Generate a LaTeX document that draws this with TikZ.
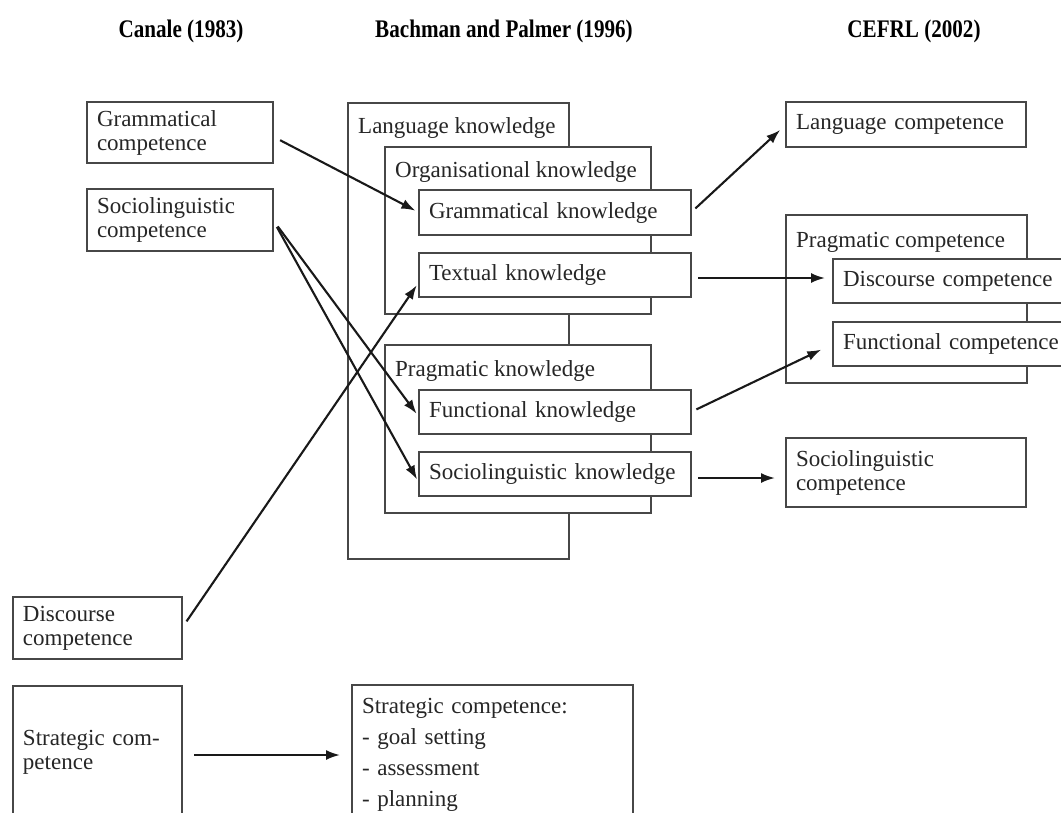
\documentclass[tikz,border=0pt]{standalone}
\usepackage{fontspec}
\setmainfont{Liberation Serif}
\usetikzlibrary{arrows.meta,calc}
\tikzset{
  box/.style={draw=black!72, fill=white, line width=1.8pt, anchor=north west,
    inner xsep=10pt, inner ysep=0pt, outer sep=0pt, align=left,
    text=black!85, font=\fontsize{23}{24}\selectfont},
  lbl/.style={anchor=base west, inner sep=0pt, text=black!85, font=\fontsize{23}{24}\selectfont},
  ttl/.style={inner sep=0pt, font=\fontsize{22}{26}\selectfont\bfseries},
  arr/.style={line width=2.1pt, black!90, -{Latex[length=14pt,width=10pt]}},
}
\newcommand{\ttltext}[1]{\scalebox{0.96}[1.15]{#1}}
\begin{document}
\begin{tikzpicture}[x=1pt,y=-1pt]
\useasboundingbox (0,0) rectangle (1061,812);
\clip (0,0) rectangle (1061,812);
\fill[white] (0,0) rectangle (1061,812);
% titles
\node[ttl] (t1) at (181,31) {\ttltext{Canale (1983)}};
\node[ttl] (t2) at (504,31) {\ttltext{Bachman and Palmer (1996)}};
\node[ttl] (t3) at (914,31) {\ttltext{CEFRL (2002)}};
% Canale column
\node[box, text width=166pt, minimum height=61pt] (gc) at (87,102) {Grammatical\\competence};
\node[box, text width=166pt, minimum height=62pt] (scl) at (87,189) {Sociolinguistic\\competence};
\node[box, text width=149pt, minimum height=62pt] (dcl) at (13,597) {Discourse\\competence};
\node[box, text width=149pt, minimum height=132pt] (stc) at (13,686) {Strategic com-\\petence};
% Bachman and Palmer column
\node[box, minimum width=221pt, minimum height=456pt] (lk) at (348,103) {};
\node[lbl] (lkl) at (358,133) {Language knowledge};
\node[box, minimum width=266pt, minimum height=167pt] (ok) at (385,147) {};
\node[lbl] (okl) at (395,177) {Organisational knowledge};
\node[box, text width=252pt, minimum height=45pt] (gk) at (419,190) {Grammatical knowledge};
\node[box, text width=252pt, minimum height=44pt] (tk) at (419,253) {Textual knowledge};
\node[box, minimum width=266pt, minimum height=168pt] (pk) at (385,345) {};
\node[lbl] (pkl) at (395,376) {Pragmatic knowledge};
\node[box, text width=252pt, minimum height=44pt] (fk) at (419,390) {Functional knowledge};
\node[box, text width=252pt, minimum height=44pt] (sk) at (419,452) {Sociolinguistic knowledge};
\node[box, text width=261pt, minimum height=140pt, font=\fontsize{23}{31}\selectfont] (sc) at (352,685) {Strategic competence:\\- goal setting\\- assessment\\- planning\\[4pt]};
% CEFRL column
\node[box, text width=220pt, minimum height=45pt] (lc) at (786,102) {Language competence};
\node[box, minimum width=241pt, minimum height=168pt] (pc) at (786,215) {};
\node[lbl] (pcl) at (796,247) {Pragmatic competence};
\node[box, text width=250pt, minimum height=44pt] (dc) at (833,259) {Discourse competence};
\node[box, text width=250pt, minimum height=44pt] (fc) at (833,322) {Functional competence};
\node[box, text width=220pt, minimum height=69pt] (slc) at (786,438) {Sociolinguistic\\competence};
% arrows
\draw[arr, shorten <=8pt, shorten >=4pt] ([yshift=-4pt]gc.east) -- (gk.west);
\draw[arr, shorten <=8pt, shorten >=4pt] (scl.east) -- ([yshift=-5pt]fk.west);
\draw[arr, shorten <=8pt, shorten >=4pt] (scl.east) -- ([yshift=-9pt]sk.west);
\draw[arr, shorten <=8pt, shorten >=4pt] (dcl.east) -- ([yshift=-7pt]tk.west);
\draw[arr, shorten <=12pt, shorten >=12pt] ([yshift=-3pt]stc.east) -- ([yshift=-3pt]stc.east -| sc.west);
\draw[arr, shorten <=6pt, shorten >=8pt] (gk.east) -- (lc.west);
\draw[arr, shorten <=7pt, shorten >=8pt] ([yshift=-3pt]tk.east) -- ([yshift=-3pt]tk.east -| dc.west);
\draw[arr, shorten <=6pt, shorten >=13pt] (fk.east) -- (fc.west);
\draw[arr, shorten <=7pt, shorten >=11pt] ([yshift=-4pt]sk.east) -- ([yshift=-4pt]sk.east -| slc.west);
\end{tikzpicture}
\end{document}
